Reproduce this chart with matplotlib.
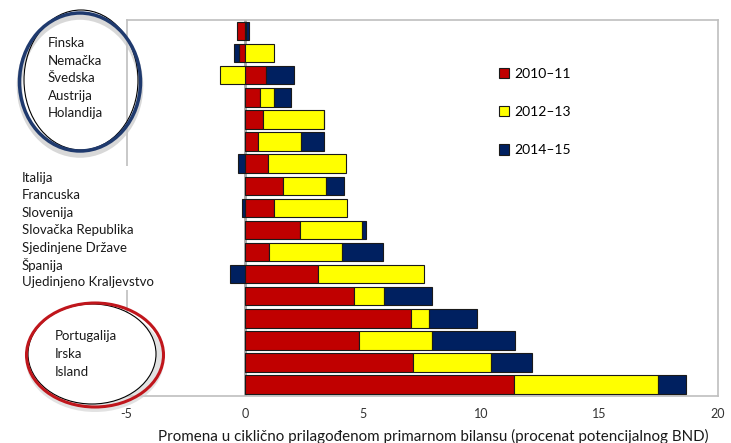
import matplotlib
matplotlib.use("Agg")
import matplotlib.pyplot as plt
import matplotlib.patches as patches
import numpy as np

plt.rcParams['font.family'] = ['Lato', 'DejaVu Sans']

# vrednosti po redovima (od vrha ka dnu)
series = ['2010–11', '2012–13', '2014–15']
v_2010 = [-0.35, -0.24, 0.90, 0.63, 0.75, 0.56, 0.97, 1.62, 1.24, 2.34, 1.03, 3.10, 4.60, 7.01, 4.81, 7.12, 11.40]
v_2012 = [0.07, 1.23, -1.06, 0.59, 2.58, 1.82, 3.31, 1.81, 3.09, 2.60, 3.06, 4.46, 1.30, 0.79, 3.09, 3.31, 6.06]
v_2014 = [0.12, -0.20, 1.17, 0.75, 0.00, 0.96, -0.28, 0.76, -0.14, 0.18, 1.76, -0.61, 2.02, 2.00, 3.54, 1.73, 1.20]
colors = ['#C00000', '#FFFF00', '#002060']

# natpisi (preko originalnih oznaka)
labels_top = ['Finska', 'Nemačka', 'Švedska', 'Austrija', 'Holandija']
labels_mid = ['Italija', 'Francuska', 'Slovenija', 'Slovačka Republika',
              'Sjedinjene Države', 'Španija', 'Ujedinjeno Kraljevstvo']
labels_bot = ['Portugalija', 'Irska', 'Island']
xticks = [-5, 0, 5, 10, 15, 20]
xlabel = 'Promena u ciklično prilagođenom primarnom bilansu (procenat potencijalnog BND)'

W, H = 731, 443
fig = plt.figure(figsize=(W / 100, H / 100), dpi=100)
ax = fig.add_axes([126.6 / W, (H - 395.7) / H, (717.7 - 126.6) / W, (395.7 - 20) / H])

y = np.arange(len(v_2010))
pos = np.zeros(len(y))
neg = np.zeros(len(y))
for vals, c, name in zip([v_2010, v_2012, v_2014], colors, series):
    vals = np.array(vals)
    left = np.where(vals >= 0, pos, neg)
    ax.barh(y, vals, left=left, height=0.83, color=c, edgecolor='#1a1a1a',
            linewidth=0.8, label=name, zorder=3)
    pos += np.where(vals >= 0, vals, 0)
    neg += np.where(vals < 0, vals, 0)

ax.axvline(0, color='#a6a6a6', lw=2, zorder=2)
ax.set_xlim(-5, 20)
ax.set_ylim(len(y) - 0.5, -0.5)
ax.set_yticks([])
ax.set_xticks(xticks)
ax.set_xticklabels([str(t) for t in xticks])
ax.tick_params(axis='x', length=0, labelsize=9, colors='#333333', pad=9)
for s in ax.spines.values():
    s.set_color('#bfbfbf')
    s.set_linewidth(1.2)

# naslov ose (ručno postavljen)
fig.text(433 / W, 1 - 436 / H, xlabel, fontsize=10.9, color='#1a1a1a', ha='center', va='center')

leg = ax.legend(loc='upper left', bbox_to_anchor=((493 - 126.6) / (717.7 - 126.6), 1 - (62 - 20) / 375.7),
                frameon=False, fontsize=10, handlelength=0.75, handleheight=0.75,
                handletextpad=0.35, labelspacing=1.9, borderaxespad=0)

# sloj za natpise i elipse u pikselima
ov = fig.add_axes([0, 0, 1, 1], zorder=5)
ov.set_xlim(0, W)
ov.set_ylim(H, 0)
ov.axis('off')
ov.patch.set_alpha(0)

# gornja grupa
ov.add_patch(patches.Rectangle((22, 28), 98, 122, facecolor='white', edgecolor='none'))
ov.add_patch(patches.Ellipse((80, 86), 121, 138, facecolor='none', edgecolor='#c8c8c8', lw=4, alpha=0.7))
ov.add_patch(patches.Ellipse((81, 80), 114, 140, facecolor='none', edgecolor='black', lw=0.8))
ov.add_patch(patches.Ellipse((80, 82), 121, 138, facecolor='none', edgecolor='#1f3a6e', lw=2.5))
for i, t in enumerate(labels_top):
    ov.text(48, 43 + i * 17.5, t, fontsize=9.5, va='center', ha='left', color='#1a1a1a')

# srednja grupa
ov.add_patch(patches.Rectangle((16, 166), 150, 124, facecolor='white', edgecolor='none'))
for i, t in enumerate(labels_mid):
    ov.text(22, 178 + i * 17.4, t, fontsize=9.5, va='center', ha='left', color='#1a1a1a')

# donja grupa
ov.add_patch(patches.Ellipse((95, 360), 138, 104, facecolor='#d0d0d0', edgecolor='none', alpha=0.6))
ov.add_patch(patches.Ellipse((92, 354), 128, 100, facecolor='white', edgecolor='black', lw=0.8))
ov.add_patch(patches.Ellipse((95, 355), 137, 104, facecolor='none', edgecolor='#c0161c', lw=2.2))
for i, t in enumerate(labels_bot):
    ov.text(55, 336 + i * 18, t, fontsize=9.5, va='center', ha='left', color='#1a1a1a')

fig.savefig('out.png', dpi=100)
